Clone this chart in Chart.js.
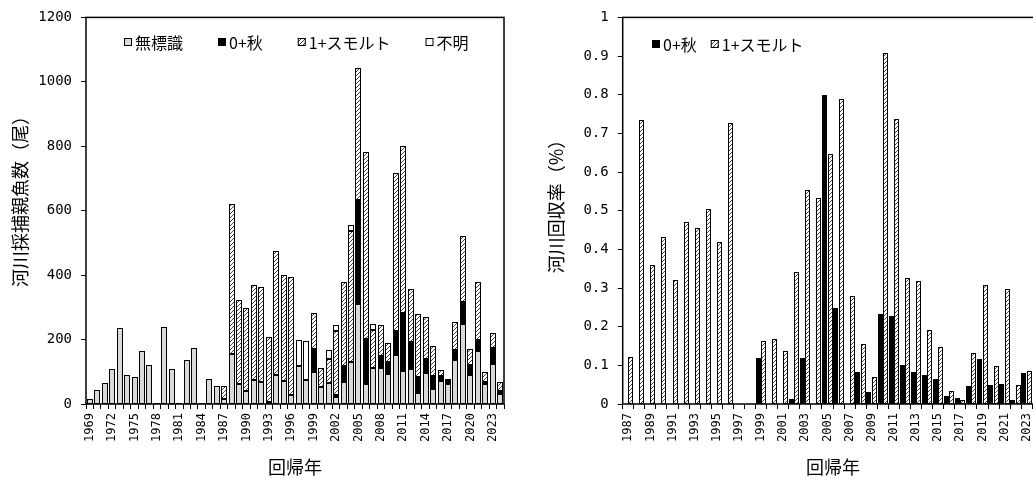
<!DOCTYPE html>
<html>
<head>
<meta charset="utf-8">
<script src="https://cdn.jsdelivr.net/npm/chart.js@4/dist/chart.umd.min.js"></script>
<style>
  html, body { margin: 0; padding: 0; background: #fff; overflow: hidden; }
  #wrap { position: relative; width: 1033px; height: 482px; overflow: hidden; background: #fff; }
  canvas { position: absolute; top: 0; }
  #countChart { left: 0; }
  #rateChart { left: 520px; }
</style>
</head>
<body>
<div id="wrap">
  <canvas id="countChart" width="520" height="482"></canvas>
  <canvas id="rateChart" width="540" height="482"></canvas>
</div>
<script>
// ---- 河川採捕親魚数（尾）: return years 1969-2024 ----
const countYears = [
  1969, 1970, 1971, 1972, 1973, 1974, 1975, 1976, 1977, 1978,
  1979, 1980, 1981, 1982, 1983, 1984, 1985, 1986, 1987, 1988,
  1989, 1990, 1991, 1992, 1993, 1994, 1995, 1996, 1997, 1998,
  1999, 2000, 2001, 2002, 2003, 2004, 2005, 2006, 2007, 2008,
  2009, 2010, 2011, 2012, 2013, 2014, 2015, 2016, 2017, 2018,
  2019, 2020, 2021, 2022, 2023, 2024
];
const unmarkedFish = [
  15, 44, 64, 110, 236, 91, 85, 164, 122, 3,
  240, 109, 3, 136, 174, 3, 78, 56, 15, 154,
  61, 41, 73, 68, 5, 90, 71, 28, 118, 75,
  100, 52, 64, 22, 69, 129, 311, 62, 113, 112,
  92, 152, 103, 109, 33, 95, 47, 72, 61, 138,
  248, 90, 165, 61, 124, 30
];
const autumnFish = [
  null, null, null, null, null, null, null, null, null, null,
  null, null, null, null, null, null, null, null, null, null,
  null, null, null, null, null, null, null, null, null, null,
  70, null, null, 5, 49, null, 323, 139, null, 36,
  39, 75, 179, 83, 52, 45, 41, 15, 12, 29,
  69, 31, 33, 8, 50, 10
];
const smoltFish = [
  null, null, null, null, null, null, null, null, null, null,
  null, null, null, null, null, null, null, null, 42, 468,
  263, 256, 297, 295, 203, 384, 328, 365, null, null,
  112, 60, 76, 200, 260, 409, 409, 582, 116, 98,
  59, 490, 519, 164, 195, 129, 91, 20, 4, 88,
  203, 51, 180, 30, 45, 27
];
const unknownFish = [
  null, null, null, null, null, null, null, null, null, null,
  null, null, null, null, null, null, null, null, null, null,
  null, null, null, null, null, null, null, null, 82, 120,
  null, null, 27, 19, null, 19, null, null, 20, null,
  null, null, null, null, null, null, null, null, null, null,
  null, null, null, null, null, null
];
const countTickValues = [0, 200, 400, 600, 800, 1000, 1200];
const countYearTicks = [1969, 1972, 1975, 1978, 1981, 1984, 1987, 1990, 1993, 1996,
  1999, 2002, 2005, 2008, 2011, 2014, 2017, 2020, 2023];

// ---- 河川回収率（%）: return years 1987-2024 ----
const rateYears = [
  1987, 1988, 1989, 1990, 1991, 1992, 1993, 1994, 1995, 1996,
  1997, 1998, 1999, 2000, 2001, 2002, 2003, 2004, 2005, 2006,
  2007, 2008, 2009, 2010, 2011, 2012, 2013, 2014, 2015, 2016,
  2017, 2018, 2019, 2020, 2021, 2022, 2023, 2024
];
const autumnRate = [
  null, null, null, null, null, null, null, null, null, null,
  null, null, 0.118, null, null, 0.013, 0.118, null, 0.798, 0.249,
  null, 0.083, 0.031, 0.234, 0.228, 0.100, 0.084, 0.076, 0.064, 0.021,
  0.016, 0.047, 0.117, 0.049, 0.052, 0.010, 0.081, 0.012
];
const smoltRate = [
  0.122, 0.735, 0.360, 0.431, 0.320, 0.472, 0.455, 0.504, 0.418, 0.726,
  null, null, 0.162, 0.167, 0.137, 0.341, 0.553, 0.534, 0.646, 0.789,
  0.279, 0.155, 0.070, 0.908, 0.736, 0.326, 0.317, 0.192, 0.147, 0.033,
  0.011, 0.133, 0.309, 0.099, 0.298, 0.050, 0.086, null
];
const rateTickValues = [0, 0.1, 0.2, 0.3, 0.4, 0.5, 0.6, 0.7, 0.8, 0.9, 1];
const rateTickLabels = ['0', '0.1', '0.2', '0.3', '0.4', '0.5', '0.6', '0.7', '0.8', '0.9', '1'];
const rateYearTicks = [1987, 1989, 1991, 1993, 1995, 1997, 1999, 2001, 2003, 2005,
  2007, 2009, 2011, 2013, 2015, 2017, 2019, 2021, 2023];

// ---- drawing ----
const CJK = '"Noto Sans CJK JP", "Noto Sans", sans-serif';
const MONO = '"DejaVu Sans Mono", "Liberation Mono", monospace';
const GRAY = '#d9d9d9';

function makeHatch() {
  const tile = document.createElement('canvas');
  tile.width = 4; tile.height = 4;
  const c = tile.getContext('2d');
  c.fillStyle = '#fff';
  c.fillRect(0, 0, 4, 4);
  c.strokeStyle = '#444';
  c.lineWidth = 1;
  c.beginPath();
  c.moveTo(-1, 5); c.lineTo(5, -1);
  c.moveTo(-1, 1); c.lineTo(1, -1);
  c.moveTo(3, 5); c.lineTo(5, 3);
  c.stroke();
  return c.createPattern(tile, 'repeat');
}

// round bar edges to whole pixels so the 1px outlines stay crisp
const pixelSnap = {
  id: 'pixelSnap',
  beforeDatasetsDraw(chart) {
    chart.data.datasets.forEach((ds, i) => {
      chart.getDatasetMeta(i).data.forEach(el => {
        if (el.width == null) return;
        const left = Math.round(el.x - el.width / 2);
        const w = Math.max(1, Math.round(el.width));
        el.width = w;
        el.x = left + w / 2;
        el.y = Math.round(el.y);
        el.base = Math.round(el.base);
      });
    });
  }
};

// plot frame around the chart area
const plotFrame = {
  id: 'plotFrame',
  afterDatasetsDraw(chart) {
    const { ctx, chartArea: a } = chart;
    ctx.save();
    ctx.strokeStyle = '#000';
    ctx.lineWidth = 1.5;
    ctx.strokeRect(a.left, a.top, a.right - a.left, a.bottom - a.top);
    ctx.restore();
  }
};

// vertical axis title, rotated, placed at a set point
const sideTitle = {
  id: 'sideTitle',
  afterDraw(chart, args, opts) {
    const ctx = chart.ctx;
    ctx.save();
    ctx.font = opts.font;
    ctx.fillStyle = '#000';
    ctx.textAlign = 'center';
    ctx.textBaseline = 'middle';
    ctx.translate(opts.x, opts.y);
    ctx.rotate(-Math.PI / 2);
    ctx.fillText(opts.text, 0, 0);
    ctx.restore();
  }
};

// in-plot legend row built from the datasets
const legendRow = {
  id: 'legendRow',
  afterDraw(chart, args, opts) {
    const ctx = chart.ctx;
    const box = opts.box;
    ctx.save();
    ctx.font = opts.font;
    ctx.textBaseline = 'middle';
    ctx.lineWidth = 1;
    let x = opts.x;
    chart.data.datasets.forEach(ds => {
      ctx.fillStyle = ds.backgroundColor;
      ctx.fillRect(x, opts.y - box / 2, box, box);
      ctx.strokeStyle = '#000';
      ctx.strokeRect(x + 0.5, opts.y - box / 2 + 0.5, box - 1, box - 1);
      ctx.fillStyle = '#000';
      const tx = x + box + opts.textGap;
      ctx.fillText(ds.label, tx, opts.y + 1);
      x = tx + ctx.measureText(ds.label).width + opts.itemGap;
    });
    ctx.restore();
  }
};

function categoryAxis(shownYears, stacked) {
  return {
    type: 'category',
    offset: true,
    stacked: stacked,
    grid: { offset: true, drawOnChartArea: false, drawTicks: true, tickLength: 5, color: '#000', lineWidth: 1 },
    border: { display: false },
    ticks: {
      autoSkip: false, maxRotation: 90, minRotation: 90, padding: 4, color: '#000',
      font: { family: MONO, size: 12 },
      callback(value) {
        const lab = this.getLabelForValue(value);
        return shownYears.includes(Number(lab)) ? String(lab) : '';
      }
    },
    title: { display: true, text: '回帰年', color: '#000', font: { family: CJK, size: 18 }, padding: { top: 0, bottom: 4 } },
    afterFit(scale) { scale.height = 78; }
  };
}

function valueAxis(values, labels, max, width, stacked) {
  return {
    type: 'linear',
    min: 0,
    max: max,
    stacked: stacked,
    grid: { drawOnChartArea: false, drawTicks: true, tickLength: 5, color: '#000', lineWidth: 1 },
    border: { display: false },
    afterBuildTicks(scale) { scale.ticks = values.map(v => ({ value: v })); },
    ticks: {
      padding: 9, color: '#000',
      font: { family: MONO, size: 14 },
      callback(value, index) { return labels[index]; }
    },
    afterFit(scale) { scale.width = width; }
  };
}

function draw() {
  const hatch = makeHatch();
  Chart.defaults.color = '#000';
  const barStyle = { borderColor: '#000', borderWidth: 1, borderSkipped: false, inflateAmount: 0 };

  new Chart(document.getElementById('countChart'), {
    type: 'bar',
    data: {
      labels: countYears,
      datasets: [
        Object.assign({ label: '無標識', data: unmarkedFish, backgroundColor: GRAY }, barStyle),
        Object.assign({ label: '0+秋', data: autumnFish, backgroundColor: '#000' }, barStyle),
        Object.assign({ label: '1+スモルト', data: smoltFish, backgroundColor: hatch }, barStyle),
        Object.assign({ label: '不明', data: unknownFish, backgroundColor: '#fff' }, barStyle)
      ]
    },
    options: {
      responsive: false,
      animation: false,
      devicePixelRatio: 1,
      layout: { padding: { top: 16, right: 16, left: 0, bottom: 0 } },
      datasets: { bar: { categoryPercentage: 1.0, barPercentage: 0.8 } },
      scales: {
        x: categoryAxis(countYearTicks, true),
        y: valueAxis(countTickValues, countTickValues.map(String), 1200, 86, true)
      },
      plugins: {
        legend: { display: false },
        tooltip: { enabled: false },
        sideTitle: { text: '河川採捕親魚数（尾）', x: 20, y: 197, font: '18px ' + CJK },
        legendRow: { x: 124, y: 42, box: 8, textGap: 3, itemGap: 35, font: '16px ' + CJK }
      }
    },
    plugins: [pixelSnap, plotFrame, sideTitle, legendRow]
  });

  new Chart(document.getElementById('rateChart'), {
    type: 'bar',
    data: {
      labels: rateYears,
      datasets: [
        Object.assign({ label: '0+秋', data: autumnRate, backgroundColor: '#000' }, barStyle),
        Object.assign({ label: '1+スモルト', data: smoltRate, backgroundColor: hatch }, barStyle)
      ]
    },
    options: {
      responsive: false,
      animation: false,
      devicePixelRatio: 1,
      layout: { padding: { top: 16, right: 16.6, left: 0, bottom: 0 } },
      datasets: { bar: { categoryPercentage: 0.96, barPercentage: 1.0 } },
      scales: {
        x: categoryAxis(rateYearTicks, false),
        y: valueAxis(rateTickValues, rateTickLabels, 1, 102.7, false)
      },
      plugins: {
        legend: { display: false },
        tooltip: { enabled: false },
        sideTitle: { text: '河川回収率（%）', x: 36, y: 202, font: '18px ' + CJK },
        legendRow: { x: 132, y: 44, box: 8, textGap: 3, itemGap: 14, font: '16px ' + CJK }
      }
    },
    plugins: [pixelSnap, plotFrame, sideTitle, legendRow]
  });
}

Promise.all([
  document.fonts.load('18px "Noto Sans CJK JP"', '河川回帰年無標識秋スモルト不明採捕親魚数尾収率'),
  document.fonts.load('14px "DejaVu Sans Mono"', '0123456789.')
]).catch(() => {}).then(draw);
</script>
</body>
</html>
